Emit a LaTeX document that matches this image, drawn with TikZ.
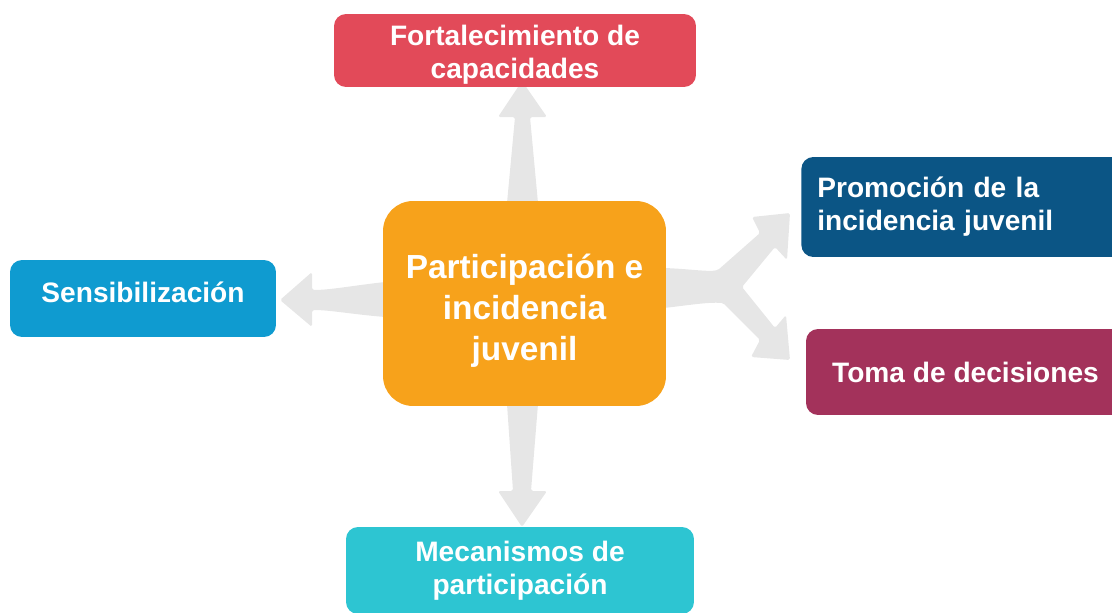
\documentclass[tikz,border=0pt]{standalone}
\usepackage{fontspec}
\setmainfont{Liberation Sans}
\usepackage{xcolor}
\usepackage{tikz}

\definecolor{rojo}{HTML}{E24A59}
\definecolor{azulosc}{HTML}{0B5585}
\definecolor{vino}{HTML}{A3325B}
\definecolor{azul}{HTML}{0F9BD0}
\definecolor{naranja}{HTML}{F7A21B}
\definecolor{cian}{HTML}{2DC5D2}
\definecolor{gris}{HTML}{E6E6E6}

\begin{document}
\begin{tikzpicture}[x=0.02cm, y=-0.02cm,
  caja/.style={rectangle, rounded corners=0.24cm, text=white, align=center, inner sep=0pt,
    font=\bfseries\fontsize{16}{18.8}\selectfont},
  flecha/.style={fill=gris, draw=none, rounded corners=1pt}]
\useasboundingbox (0,0) rectangle (1112,612);
\clip (0,0) rectangle (1112,612);

% Flechas
\path[flecha] (507,203) -- (515,117) -- (498,117) -- (522,81) -- (547,117) -- (530,117) -- (538,203) -- cycle;
\path[flecha] (507,404) -- (513,491) -- (498,491) -- (522,527) -- (547,491) -- (531,491) -- (538,404) -- cycle;
\path[flecha] (385,282) .. controls (350,286) and (330,290) .. (312,290) -- (312,272) -- (280,300)
  -- (312,327) -- (312,310) .. controls (330,310) and (350,314) .. (385,317) -- cycle;
\path[flecha] (664,268) .. controls (690,269) and (708,272) .. (718,270) -- (760,233) -- (752,217)
  -- (790,213) -- (787,260) -- (775,247) -- (742,287) -- (775,328) -- (786,315) -- (790,360)
  -- (751,357) -- (760,340) -- (723,303) .. controls (708,302) and (690,305) .. (664,308) -- cycle;

% Cajas
\node[caja, fill=naranja, rounded corners=0.6cm, minimum width=5.66cm, minimum height=4.1cm,
  font=\bfseries\fontsize{19}{23.4}\selectfont, text height=2.41cm] (centro) at (524.5,303.5)
  {Participación e\\incidencia\\juvenil};
\node[caja, fill=rojo, minimum width=7.24cm, minimum height=1.46cm, text height=1.22cm] (fort) at (515,50.5)
  {Fortalecimiento de\\capacidades};
\node[caja, fill=azulosc, minimum height=2cm, text width=5.8cm, align=left, inner xsep=0.32cm,
  anchor=west] (prom) at (801,207) {Promoción de la\\incidencia juvenil};
\node[caja, fill=vino, minimum width=6.38cm, minimum height=1.72cm] (toma) at (965.5,372)
  {Toma de decisiones};
\node[caja, fill=azul, minimum width=5.32cm, minimum height=1.54cm, text depth=0.24cm] (sens) at (143,298.5)
  {Sensibilización};
\node[caja, fill=cian, minimum width=6.96cm, minimum height=1.74cm] (meca) at (520,570.5)
  {Mecanismos de\\participación};
\end{tikzpicture}
\end{document}
